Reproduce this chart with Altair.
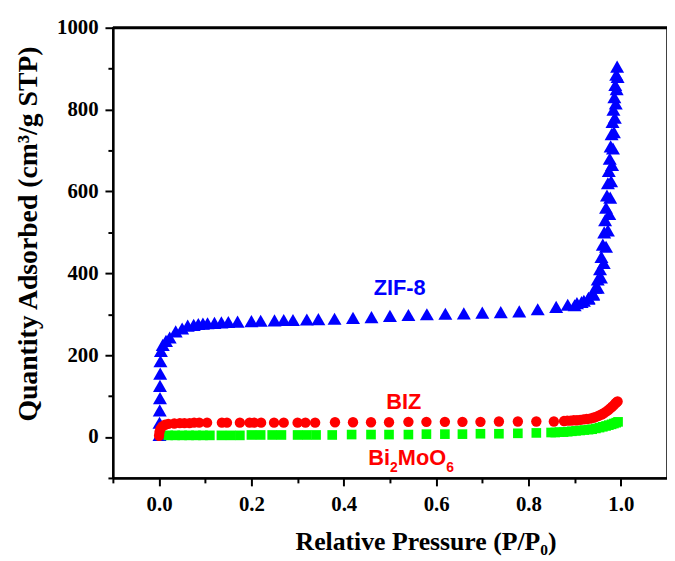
import altair as alt
import pandas as pd

# ---- ZIF-8 (blue triangles) ----
zif_x = [0.001, 0.001, 0.0015, 0.002, 0.002, 0.0025, 0.003, 0.004,
         0.008, 0.015, 0.023, 0.036, 0.05, 0.062, 0.075, 0.085, 0.095, 0.105,
         0.12, 0.135, 0.15, 0.17, 0.20, 0.22, 0.25, 0.27, 0.29, 0.32,
         0.345, 0.38, 0.42, 0.46, 0.50, 0.54, 0.58, 0.62, 0.66, 0.70,
         0.74, 0.78, 0.82, 0.86, 0.885, 0.905, 0.92, 0.93, 0.94, 0.945,
         0.95, 0.955, 0.958, 0.961, 0.964, 0.966, 0.968, 0.970, 0.972, 0.974,
         0.976, 0.978, 0.980, 0.982, 0.984, 0.986, 0.988, 0.990, 0.992,
         0.993, 0.991, 0.989, 0.987, 0.985, 0.983, 0.981, 0.979, 0.977, 0.975,
         0.972, 0.968, 0.963, 0.957, 0.95, 0.94, 0.93, 0.915, 0.90]
zif_y = [5, 35, 65, 95, 125, 155, 185, 210,
         225, 235, 243, 258, 265, 272, 274, 276, 277, 278,
         279, 280, 281, 282, 283, 284, 285, 286, 286, 287,
         288, 289, 291, 293, 296, 298, 300, 301, 302, 304,
         305, 307, 312, 318, 323, 327, 333, 340, 350, 365,
         385, 410, 440, 470, 500, 530, 560, 590, 620, 650,
         680, 710, 740, 770, 800, 830, 860, 885, 905,
         880, 850, 815, 780, 745, 705, 665, 625, 585, 545,
         505, 465, 425, 390, 365, 348, 338, 330, 322]

# ---- BIZ (red circles) ----
biz_x = [0.0, 0.001, 0.003, 0.007, 0.013, 0.02, 0.033, 0.045, 0.055, 0.066,
         0.076, 0.087, 0.104, 0.136, 0.147, 0.175, 0.196, 0.206, 0.221, 0.249,
         0.27, 0.30, 0.317, 0.338, 0.381, 0.42, 0.459, 0.498, 0.54, 0.579,
         0.619, 0.657, 0.696, 0.736, 0.777, 0.817, 0.855, 0.877, 0.884, 0.891,
         0.898, 0.905, 0.912, 0.919, 0.926, 0.933, 0.94, 0.946, 0.952, 0.958,
         0.963, 0.968, 0.973, 0.977, 0.981, 0.985, 0.988, 0.991, 0.993]
biz_y = [3, 12, 20, 26, 30, 32, 33, 34, 34, 34,
         35, 35, 35, 35, 35, 35, 35, 35, 35, 35,
         35, 35, 35, 35, 36, 36, 36, 36, 37, 37,
         37, 37, 37, 38, 38, 38, 38, 39, 40, 40,
         41, 41, 42, 43, 44, 45, 47, 49, 52, 55,
         58, 62, 66, 70, 74, 78, 82, 85, 87]

# ---- Bi2MoO6 (green squares) ----
bmo_x = [0.02, 0.035, 0.05, 0.065, 0.08, 0.095, 0.11, 0.135, 0.155, 0.175,
         0.20, 0.22, 0.245, 0.265, 0.30, 0.32, 0.34, 0.375, 0.417, 0.459,
         0.498, 0.54, 0.579, 0.619, 0.657, 0.696, 0.736, 0.777, 0.817, 0.849,
         0.858, 0.867, 0.876, 0.885, 0.894, 0.903, 0.912, 0.921, 0.93, 0.938,
         0.946, 0.954, 0.961, 0.968, 0.974, 0.98, 0.985, 0.99, 0.994]
bmo_y = [4, 4, 4, 4, 4, 4, 4, 4, 4, 4,
         5, 5, 5, 5, 5, 5, 5, 5, 6, 6,
         6, 6, 7, 7, 7, 8, 8, 9, 10, 11,
         11, 12, 12, 13, 14, 15, 16, 17, 18, 19,
         21, 23, 25, 27, 29, 31, 33, 35, 37]

# ---- annotations ----
zif_label = {"x": [0.521], "y": [347], "t": ["ZIF-8"]}
biz_label = {"x": [0.53], "y": [69], "t": ["BIZ"]}
bmo_anchor = {"x": [0.545], "y": [-68]}

x_ticks = [round(-0.1 + 0.1 * i, 1) for i in range(12)]
y_ticks = list(range(-100, 1001, 100))

SERIF = "Liberation Serif"
SANS = "Liberation Sans"

x_scale = alt.Scale(domain=[-0.1, 1.1], nice=False, zero=False)
y_scale = alt.Scale(domain=[-100, 1000], nice=False, zero=False)

x_major = "abs(round(datum.value*10)) % 2 == 0"
y_major = "abs(round(datum.value)) % 200 == 0"

x_axis = alt.Axis(
    values=x_ticks,
    labelExpr=f"{x_major} ? format(datum.value, '.1f') : ''",
    title="Relative Pressure (P/P\u2080)",
    titleX=316,
    titlePadding=14,
    tickSize={"condition": {"test": x_major, "value": 8}, "value": 5},
    tickWidth=2, tickColor="black",
    domainWidth=2.5, domainColor="black",
    labelFont=SERIF, labelFontWeight="bold", labelFontSize=21, labelColor="black",
    labelPadding=8,
    titleFont=SERIF, titleFontWeight="bold", titleFontSize=26, titleColor="black",
    grid=False, labelFlush=False, labelOverlap=False,
)
y_axis = alt.Axis(
    values=y_ticks,
    labelExpr=f"{y_major} ? format(datum.value, 'd') : ''",
    title="Quantity Adsorbed (cm\u00b3/g STP)",
    titleY=208,
    titlePadding=14,
    tickSize={"condition": {"test": y_major, "value": 8}, "value": 5},
    tickWidth=2, tickColor="black",
    domainWidth=2.5, domainColor="black",
    labelFont=SERIF, labelFontWeight="bold", labelFontSize=21, labelColor="black",
    labelPadding=7,
    titleFont=SERIF, titleFontWeight="bold", titleFontSize=28, titleColor="black",
    grid=False, labelFlush=False, labelOverlap=False,
)

X = alt.X("x:Q", scale=x_scale, axis=x_axis)
Y = alt.Y("y:Q", scale=y_scale, axis=y_axis)

zif = alt.Chart(pd.DataFrame({"x": zif_x, "y": zif_y})).mark_point(
    shape="triangle-up", filled=True, size=200, color="#0000FF", opacity=1
).encode(x=X, y=Y)

bmo = alt.Chart(pd.DataFrame({"x": bmo_x, "y": bmo_y})).mark_square(
    size=95, color="#00FF00", opacity=1
).encode(x=X, y=Y)

biz = alt.Chart(pd.DataFrame({"x": biz_x, "y": biz_y})).mark_circle(
    size=110, color="#FF0000", opacity=1
).encode(x=X, y=Y)

top_frame = alt.Chart(pd.DataFrame({"y": [1000]})).mark_rule(
    color="black", strokeWidth=3
).encode(y=Y)

zif_text = alt.Chart(pd.DataFrame(zif_label)).mark_text(
    font=SANS, fontWeight="bold", fontSize=22, color="#0000FF",
    align="center", baseline="alphabetic"
).encode(x=X, y=Y, text="t:N")

biz_text = alt.Chart(pd.DataFrame(biz_label)).mark_text(
    font=SANS, fontWeight="bold", fontSize=22, color="#FF0000",
    align="center", baseline="alphabetic"
).encode(x=X, y=Y, text="t:N")

bmo_df = pd.DataFrame(bmo_anchor)
pieces = [("Bi", 22, -43, 0), ("2", 14, -21, 7), ("MoO", 22, -13, 0), ("6", 14, 36, 7)]
bmo_texts = [
    alt.Chart(bmo_df).mark_text(
        font=SANS, fontWeight="bold", fontSize=fs, color="#FF0000",
        align="left", baseline="alphabetic", dx=dx, dy=dy, text=t
    ).encode(x=X, y=Y)
    for t, fs, dx, dy in pieces
]

chart = alt.layer(zif, bmo, biz, top_frame, zif_text, biz_text, *bmo_texts).properties(
    width=560, height=455,
    autosize=alt.AutoSizeParams(type="none"),
    padding={"left": 106, "top": 17, "right": 0, "bottom": 80},
).configure_view(
    stroke="black", strokeWidth=1.5
)

chart.save("out.html", embed_options={"renderer": "svg", "actions": False})
